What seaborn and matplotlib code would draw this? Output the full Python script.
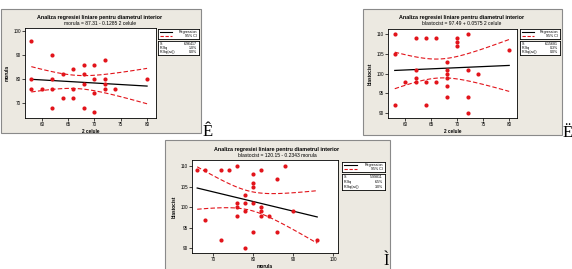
import numpy as np
import pandas as pd
import matplotlib
matplotlib.use("Agg")
import matplotlib.pyplot as plt
from matplotlib.patches import Rectangle
import seaborn as sns

# panel a: 2 celule vs morula
celule_a = [58, 58, 58, 60, 62, 62, 62, 62, 64, 64, 66, 66, 66, 68, 68, 68, 68,
            70, 70, 70, 70, 72, 72, 72, 72, 74, 80]
morula_a = [96, 80, 76, 76, 90, 80, 76, 68, 82, 72, 84, 76, 72, 86, 82, 78, 68,
            86, 80, 74, 66, 88, 80, 78, 76, 76, 80]

# panel b: 2 celule vs blastocist
celule_b = [58, 58, 58, 60, 62, 62, 62, 62, 64, 64, 64, 66, 66, 68, 68, 68, 68, 68,
            68, 70, 70, 70, 72, 72, 72, 72, 74, 80]
blast_b = [110, 105, 92, 98, 109, 101, 99, 98, 109, 98, 92, 109, 98, 103, 101, 100,
           99, 97, 94, 109, 108, 107, 110, 101, 94, 90, 100, 106]

# panel c: morula vs blastocist
morula_c = [66, 68, 68, 72, 72, 74, 76, 76, 76, 76, 78, 78, 78, 78, 80, 80, 80, 80,
            80, 82, 82, 82, 82, 84, 86, 86, 88, 90, 96]
blast_c = [109, 109, 97, 109, 92, 109, 110, 101, 100, 98, 103, 101, 99, 90, 108, 106,
           105, 101, 94, 109, 100, 99, 98, 98, 107, 94, 110, 99, 92]

title = "Analiza regresiei liniare pentru diametrul interior"
ticks_celule = [60, 65, 70, 75, 80]
ticks_morula = [70, 80, 90, 100]
ticks_blast = [90, 95, 100, 105, 110]

W, H = 572, 269
RED = "#E2141B"
BG = "#ECE9E1"
FONT = "Liberation Sans"

fig = plt.figure(figsize=(W / 100, H / 100), dpi=100)
fig.patch.set_facecolor("white")


def box(x0, y0, x1, y1):
    return [x0 / W, 1 - y1 / H, (x1 - x0) / W, (y1 - y0) / H]


def legend(rect_top, rect_bot, s, r2, r2adj):
    la = fig.add_axes(box(*rect_top))
    la.set_xlim(0, 1)
    la.set_ylim(0, 1)
    la.set_xticks([])
    la.set_yticks([])
    la.plot([0.05, 0.35], [0.72, 0.72], color="black", lw=0.8)
    la.plot([0.05, 0.35], [0.28, 0.28], color=RED, lw=0.8, dashes=(3, 1.5))
    la.text(0.95, 0.72, "Regression", fontsize=2.6, ha="right", va="center", family=FONT)
    la.text(0.95, 0.28, "95% CI", fontsize=2.6, ha="right", va="center", family=FONT)
    lb = fig.add_axes(box(*rect_bot))
    lb.set_xlim(0, 1)
    lb.set_ylim(0, 1)
    lb.set_xticks([])
    lb.set_yticks([])
    rows = [("S", f"{s:.5f}"), ("R-Sq", f"{r2:.1f}%"), ("R-Sq(adj)", f"{r2adj:.1f}%")]
    for i, (k, v) in enumerate(rows):
        yy = 0.8 - i * 0.3
        lb.text(0.05, yy, k, fontsize=2.6, ha="left", va="center", family=FONT)
        lb.text(0.95, yy, v, fontsize=2.6, ha="right", va="center", family=FONT)
    for a in (la, lb):
        for sp in a.spines.values():
            sp.set_linewidth(0.6)


def panel(frame, plot, leg_top, leg_bot, x, y, xlab, ylab, xlim, ylim, xticks, yticks,
          tx, ty, letter, lpos):
    fig.add_artist(Rectangle((frame[0] / W, 1 - frame[3] / H), (frame[2] - frame[0]) / W,
                             (frame[3] - frame[1]) / H, transform=fig.transFigure,
                             facecolor=BG, edgecolor="#8a8a8a", lw=0.8, zorder=-1))
    df = pd.DataFrame({xlab: x, ylab: y})
    ax = fig.add_axes(box(*plot))
    ax.set_facecolor("white")

    # regression + 95% CI of the mean
    xa = np.array(x, float)
    ya = np.array(y, float)
    n = len(xa)
    b1, b0 = np.polyfit(xa, ya, 1)
    resid = ya - (b0 + b1 * xa)
    sse = (resid ** 2).sum()
    sst = ((ya - ya.mean()) ** 2).sum()
    s = np.sqrt(sse / (n - 2))
    r2 = 100 * (1 - sse / sst)
    r2adj = max(0.0, 100 * (1 - (1 - r2 / 100) * (n - 1) / (n - 2)))
    xs = np.linspace(xa.min(), xa.max(), 100)
    se = s * np.sqrt(1 / n + (xs - xa.mean()) ** 2 / ((xa - xa.mean()) ** 2).sum())
    fit = b0 + b1 * xs
    ax.plot(xs, fit + 2.06 * se, color=RED, lw=0.8, dashes=(4, 2), zorder=2)
    ax.plot(xs, fit - 2.06 * se, color=RED, lw=0.8, dashes=(4, 2), zorder=2)

    sns.regplot(data=df, x=xlab, y=ylab, ax=ax, scatter=False, ci=None,
                line_kws=dict(color="black", lw=0.9))
    sns.scatterplot(data=df, x=xlab, y=ylab, ax=ax, color=RED, s=9, linewidth=0, zorder=3)

    ax.set_xlim(*xlim)
    ax.set_ylim(*ylim)
    ax.set_xticks(xticks)
    ax.set_yticks(yticks)
    ax.tick_params(labelsize=3.3, length=2, width=0.5, pad=1)
    for lab in ax.get_xticklabels() + ax.get_yticklabels():
        lab.set_family(FONT)
    ax.set_xlabel(xlab, fontsize=3.4, fontweight="bold", labelpad=1.5, family=FONT)
    ax.set_ylabel(ylab, fontsize=3.4, fontweight="bold", labelpad=2.5, family=FONT)
    for sp in ax.spines.values():
        sp.set_linewidth(0.6)
        sp.set_color("black")

    sign = "-" if b1 < 0 else "+"
    sub = f"{ylab} = {b0:.2f} {sign} {abs(b1):.4f} {xlab}"
    fig.text(tx / W, 1 - ty / H, title, fontsize=3.9, fontweight="bold",
             ha="center", va="center", family=FONT)
    fig.text(tx / W, 1 - (ty + 6.5) / H, sub, fontsize=3.6,
             ha="center", va="center", family=FONT)
    legend(leg_top, leg_bot, s, r2, r2adj)
    fig.text(lpos[0] / W, 1 - lpos[1] / H, letter, fontsize=12,
             ha="left", va="bottom", family="Liberation Serif")


panel((1, 9, 201, 133), (25, 28, 156, 118), (158, 29, 199, 39), (158, 41, 199, 55),
      celule_a, morula_a, "2 celule", "morula", (56.8, 81.7), (63.7, 101.3),
      ticks_celule, ticks_morula, 100, 17, "Ê", (203, 140))

panel((363, 9, 562, 135), (388, 29, 517, 118), (520, 29, 560, 39), (520, 41, 560, 55),
      celule_b, blast_b, "2 celule", "blastocist", (56.7, 81.5), (88.8, 111.3),
      ticks_celule, ticks_blast, 462, 17, "Ë", (563, 141))

panel((165, 140, 390, 270), (192, 160, 338, 253), (342, 162, 385, 172), (342, 174, 385, 190),
      morula_c, blast_c, "morula", "blastocist", (64.7, 101.2), (88.9, 111.5),
      ticks_morula, ticks_blast, 277, 149, "Ì", (384, 269))

fig.savefig("out.png", dpi=100, facecolor="white")
